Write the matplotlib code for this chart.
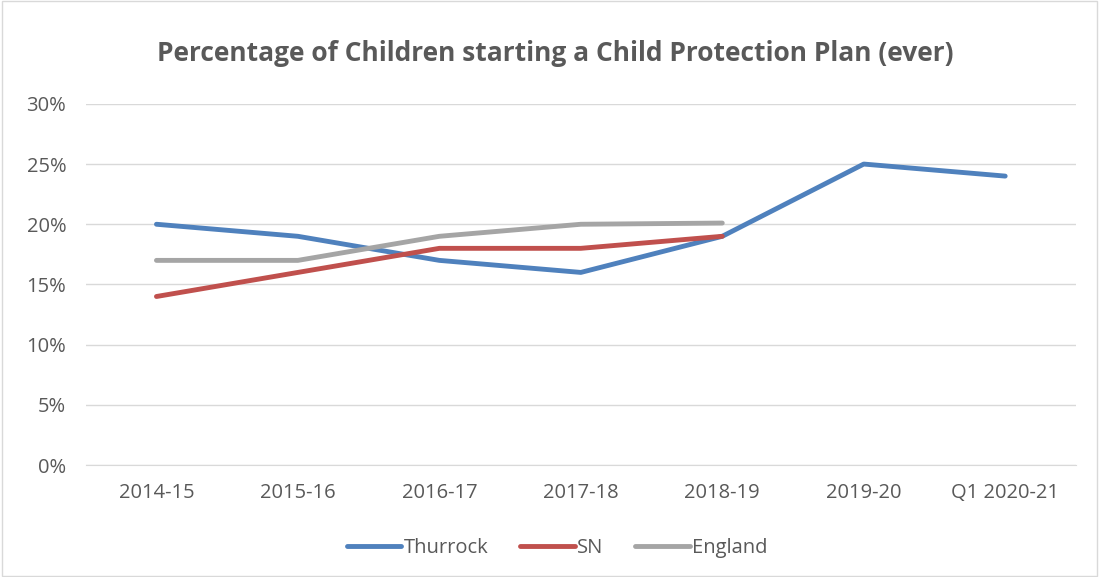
import matplotlib.pyplot as plt
import numpy as np
from matplotlib.ticker import FuncFormatter

plt.rcParams['font.family'] = ['Open Sans', 'DejaVu Sans']

years = ['2014-15', '2015-16', '2016-17', '2017-18', '2018-19', '2019-20', 'Q1 2020-21']
thurrock = [20, 19, 17, 16, 19, 25, 24]
sn = [14, 16, 18, 18, 19]
england = [17, 17, 19, 20, 20.1]

x = np.arange(len(years))
txt = '#595959'

fig = plt.figure(figsize=(10.99, 5.77), dpi=100)
ax = fig.add_axes([0.078, 0.194, 0.901, 0.626])

ax.plot(x, thurrock, color='#4F81BD', lw=3.5, label='Thurrock', solid_capstyle='round')
ax.plot(x[:len(sn)], sn, color='#C0504D', lw=3.5, label='SN', solid_capstyle='round')
ax.plot(x[:len(england)], england, color='#A5A5A5', lw=3.5, label='England', solid_capstyle='round')

ax.set_xlim(-0.5, len(years) - 0.5)
ax.set_ylim(0, 30)
ax.set_yticks(np.arange(0, 31, 5))
ax.yaxis.set_major_formatter(FuncFormatter(lambda v, p: '%d%%' % v))
ax.set_xticks(x)
ax.set_xticklabels(years)
ax.grid(axis='y', color='#D9D9D9', lw=1)
ax.set_axisbelow(True)
for s in ['top', 'right', 'left']:
    ax.spines[s].set_visible(False)
ax.spines['bottom'].set_color('#D9D9D9')
ax.tick_params(length=0, colors=txt, labelsize=14.5)
ax.tick_params(axis='x', pad=13)
ax.tick_params(axis='y', pad=14)

fig.suptitle('Percentage of Children starting a Child Protection Plan (ever)',
             x=0.505, y=0.93, fontsize=19, fontweight='bold', color=txt)

fig.legend(loc='center', bbox_to_anchor=(0.507, 1 - 548 / 577), ncol=3, frameon=False,
           fontsize=14.5, labelcolor=txt, handlelength=2.7, handletextpad=0.1,
           columnspacing=1.6)

fig.patches.append(plt.Rectangle((0.002, 0.002), 0.996, 0.996, transform=fig.transFigure,
                                 fill=False, edgecolor='#D9D9D9', lw=1))

plt.savefig('out.png', dpi=100)
